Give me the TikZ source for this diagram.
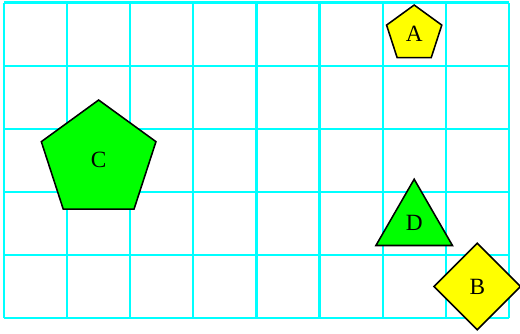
\documentclass[tikz,border=0pt]{standalone}
\usepackage{fontspec}
\setmainfont{Liberation Serif}
\usetikzlibrary{shapes.geometric}

\definecolor{rastercyan}{RGB}{0,255,255}
\definecolor{puregreen}{RGB}{0,255,0}
\definecolor{pureyellow}{RGB}{255,255,0}

\tikzset{
    shapebox/.style={draw=black, line width=0.7pt, inner sep=0pt, font=\fontsize{10.5}{12}\selectfont},
    pentagonbox/.style={shapebox, regular polygon, regular polygon sides=5},
    trianglebox/.style={shapebox, regular polygon, regular polygon sides=3},
    diamondbox/.style={shapebox, diamond, aspect=1}
}

\begin{document}
\begin{tikzpicture}
            \useasboundingbox (-0.063,-0.238) rectangle (8.177,5.04);
            % Raster:
            \draw[rastercyan, line width=1pt] (0,0) grid (8,5);
            % gelbe Formen:
            \node[pentagonbox, fill=pureyellow, minimum size=0.92cm] (A) at (6.5,4.5) {A};
            \node[diamondbox, fill=pureyellow, minimum width=1.38cm, minimum height=1.38cm] (B) at (7.5,0.5) {B};
            % gruene Formen:
            \node[pentagonbox, fill=puregreen, minimum size=1.91cm] (C) at (1.5,2.5) {C};
            \node[trianglebox, fill=puregreen, minimum size=1.4cm] (D) at (6.5,1.5) {D};
\end{tikzpicture}
\end{document}
